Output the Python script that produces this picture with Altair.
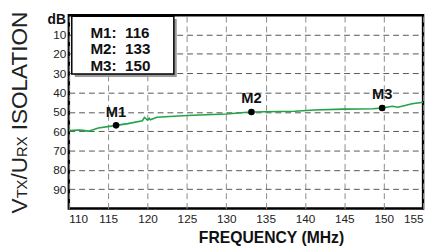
import altair as alt
import pandas as pd

# ---- data ----
freq_mhz = [110, 111.25, 111.75, 112.5, 113.75, 116, 117.5, 119.35, 119.6, 120,
            120.2, 120.35, 121.2, 125, 130, 133.1, 138.7, 141.2, 144.9, 148.65,
            149.8, 151.1, 151.8, 153.6, 155]
isolation_db = [59.7, 59.4, 59.6, 60.0, 58.4, 57.0, 56.1, 54.6, 52.9, 54.3,
                53.3, 54.1, 52.8, 51.9, 51.1, 50.1, 49.7, 49.1, 48.6, 48.4,
                48.0, 47.1, 47.6, 45.8, 45.0]

marker_names = ["M1", "M2", "M3"]
marker_freq = [116, 133.2, 149.8]
marker_db = [57.0, 50.1, 48.0]
marker_labels = [116, 133, 150]

x_ticks = [110, 115, 120, 125, 130, 135, 140, 145, 150, 155]
y_ticks = [10, 20, 30, 40, 50, 60, 70, 80, 90]

FONT = "Liberation Sans"
TXT = "#222222"

line_df = pd.DataFrame({"f": freq_mhz, "db": isolation_db})
mk_df = pd.DataFrame({"f": marker_freq, "db": marker_db, "name": marker_names})
one = pd.DataFrame({"k": [0]})

x_axis = alt.Axis(
    values=x_ticks, grid=True, gridColor="#8a8a8a", gridDash=[6, 4], gridWidth=1,
    ticks=False, domain=False, labelFont=FONT, labelFontSize=12, labelColor=TXT,
    labelPadding=5, labelOverlap=False,
    title="FREQUENCY (MHz)", titleFont=FONT, titleFontSize=16, titleFontWeight="bold",
    titleColor="#111111", titleX=206, titleY=35, titleBaseline="alphabetic",
    titleAlign="center", titleAnchor="start",
)
y_axis = alt.Axis(
    values=y_ticks, grid=True, gridColor="#555555", gridDash=[6, 4], gridWidth=1,
    ticks=False, domain=False, labelFont=FONT, labelFontSize=12, labelColor=TXT,
    labelPadding=3, labelOverlap=False, labelBound=False, title="",
)
x_scale = alt.Scale(domain=[110, 155], nice=False, zero=False)
y_scale = alt.Scale(domain=[0, 100], reverse=True, nice=False, zero=False)


def xe():
    return alt.X("f:Q", scale=x_scale, axis=x_axis)


def ye():
    return alt.Y("db:Q", scale=y_scale, axis=y_axis)


line = alt.Chart(line_df).mark_line(color="#21a348", strokeWidth=1.6).encode(x=xe(), y=ye())

pts = alt.Chart(mk_df).mark_circle(size=45, color="black", opacity=1).encode(x=xe(), y=ye())
pt_labels = alt.Chart(mk_df).mark_text(
    dy=-9, baseline="alphabetic", align="center", font=FONT, fontSize=15,
    fontWeight="bold", color="#111111",
).encode(x=xe(), y=ye(), text="name:N")

# annotation box with shadow
shadow = alt.Chart(one).mark_rect(fill="#9a9a9a").encode(
    x=alt.value(6), x2=alt.value(110), y=alt.value(4), y2=alt.value(63))
box = alt.Chart(one).mark_rect(fill="white", stroke="black", strokeWidth=1.5).encode(
    x=alt.value(3), x2=alt.value(107), y=alt.value(1), y2=alt.value(60))
box_text_str = "\n".join(f"{n}:\u00a0\u00a0{v}" for n, v in zip(marker_names, marker_labels))
box_text = alt.Chart(one).mark_text(
    align="left", baseline="alphabetic", font=FONT, fontSize=15.5, fontWeight="bold",
    color="#111111", lineBreak="\n", lineHeight=16.5, text=box_text_str,
).encode(x=alt.value(22), y=alt.value(23.5))

db_text = alt.Chart(one).mark_text(
    align="right", baseline="alphabetic", font=FONT, fontSize=14, fontWeight="bold",
    color="#111111", text="dB",
).encode(x=alt.value(-3), y=alt.value(9))

# rotated y-axis title with subscripts
title_pieces = [("V", 23, 202), ("TX", 15, 186.7), ("/U", 23, 167.5),
                ("RX", 15, 144.5), ("ISOLATION", 23, 117.3)]
title_layers = []
for txt, sz, pos in title_pieces:
    title_layers.append(
        alt.Chart(one).mark_text(
            align="left", baseline="alphabetic", angle=270, font=FONT, fontSize=sz,
            color=TXT, text=txt,
        ).encode(x=alt.value(-43), y=alt.value(pos))
    )

chart = alt.layer(
    line, shadow, box, box_text, pts, pt_labels, db_text, *title_layers
).properties(
    width=361, height=197,
    padding={"left": 62, "top": 5, "right": 4, "bottom": 39},
    autosize="none",
).configure_view(stroke="black", strokeWidth=2.5)

chart.save("out.html", embed_options={"renderer": "svg", "actions": False})
